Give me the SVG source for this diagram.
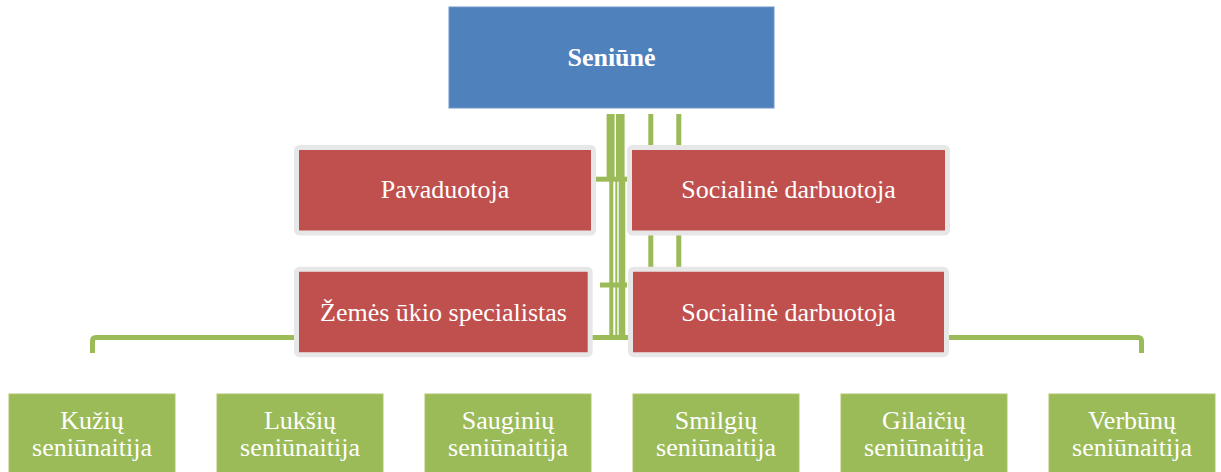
<svg xmlns="http://www.w3.org/2000/svg" width="1221" height="472" viewBox="0 0 1221 472">
  <style>
    .conn { stroke: #9BBB59; fill: none; stroke-width: 5; }
    .top { fill: #4F81BD; stroke: #7196C9; stroke-width: 1; }
    .asst { fill: #C0504D; stroke: #E7E7E7; stroke-width: 5; }
    .leaf { fill: #9BBB59; stroke: #A9C56C; stroke-width: 1; }
    .t { font-family: "Liberation Serif", "Times New Roman", serif; font-size: 26px; fill: #FFFFFF; text-anchor: middle; }
    .b { font-weight: bold; }
  </style>
  <rect width="1221" height="472" fill="#FFFFFF"/>

  <g id="connectors">
    <!-- thin verticals behind right boxes -->
    <line class="conn" x1="650.8" y1="114" x2="650.8" y2="290"/>
    <line class="conn" x1="678.8" y1="114" x2="678.8" y2="290"/>
    <!-- trunk -->
    <line class="conn" style="stroke-width:8" x1="610.6" y1="114" x2="610.6" y2="180"/>
    <line class="conn" style="stroke-width:4" x1="611.3" y1="180" x2="611.3" y2="340"/>
    <line class="conn" style="stroke-width:8.6" x1="620.3" y1="114" x2="620.3" y2="180"/>
    <line class="conn" style="stroke-width:2" x1="616.3" y1="180" x2="616.3" y2="340"/>
    <line class="conn" style="stroke-width:6.6" x1="622" y1="180" x2="622" y2="340"/>
    <!-- stubs -->
    <line class="conn" x1="596" y1="179.2" x2="627" y2="179.2"/>
    <line class="conn" x1="600" y1="285" x2="627" y2="285"/>
    <!-- bottom bus -->
    <path class="conn" d="M92.5,353 V341 Q92.5,337.5 96,337.5 H1138 Q1141.5,337.5 1141.5,341 V353"/>
  </g>

  <g id="node-seniune">
    <rect class="top" x="449" y="7" width="325" height="101"/>
    <text class="t b" x="611.5" y="66">Seniūnė</text>
  </g>

  <g id="node-pavaduotoja">
    <rect class="asst" x="296.5" y="147.5" width="297" height="85.5" rx="3"/>
    <text class="t" x="445" y="198">Pavaduotoja</text>
  </g>

  <g id="node-socialine-1">
    <rect class="asst" x="629.5" y="147.5" width="318" height="85.5" rx="3"/>
    <text class="t" x="788.5" y="198">Socialinė darbuotoja</text>
  </g>

  <g id="node-zemes">
    <rect class="asst" x="296.5" y="269.2" width="293.7" height="85.5" rx="3"/>
    <text class="t" x="443.5" y="320.5">Žemės ūkio specialistas</text>
  </g>

  <g id="node-socialine-2">
    <rect class="asst" x="630.5" y="269.2" width="316" height="85.5" rx="3"/>
    <text class="t" x="788.5" y="320.5">Socialinė darbuotoja</text>
  </g>

  <g id="node-kuziu">
    <rect class="leaf" x="9" y="394" width="166" height="90"/>
    <text class="t" x="92" y="428.5">Kužių</text>
    <text class="t" x="92" y="456">seniūnaitija</text>
  </g>
  <g id="node-luksiu">
    <rect class="leaf" x="217" y="394" width="166" height="90"/>
    <text class="t" x="300" y="428.5">Lukšių</text>
    <text class="t" x="300" y="456">seniūnaitija</text>
  </g>
  <g id="node-sauginiu">
    <rect class="leaf" x="425" y="394" width="166" height="90"/>
    <text class="t" x="508" y="428.5">Sauginių</text>
    <text class="t" x="508" y="456">seniūnaitija</text>
  </g>
  <g id="node-smilgiu">
    <rect class="leaf" x="633" y="394" width="166" height="90"/>
    <text class="t" x="716" y="428.5">Smilgių</text>
    <text class="t" x="716" y="456">seniūnaitija</text>
  </g>
  <g id="node-gilaiciu">
    <rect class="leaf" x="841" y="394" width="166" height="90"/>
    <text class="t" x="924" y="428.5">Gilaičių</text>
    <text class="t" x="924" y="456">seniūnaitija</text>
  </g>
  <g id="node-verbunu">
    <rect class="leaf" x="1049" y="394" width="166" height="90"/>
    <text class="t" x="1132" y="428.5">Verbūnų</text>
    <text class="t" x="1132" y="456">seniūnaitija</text>
  </g>
</svg>
